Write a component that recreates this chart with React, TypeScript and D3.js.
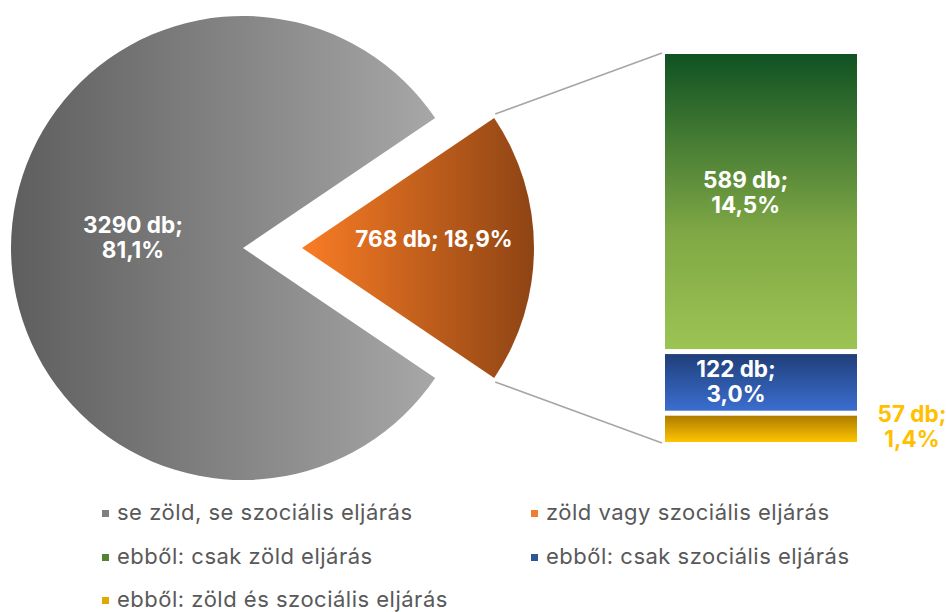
import React from 'react';
import * as d3 from 'd3';

const pieNames = ['se zöld, se szociális eljárás', 'zöld vagy szociális eljárás'];
const pieValues = [3290, 768];
const barNames = ['ebből: csak zöld eljárás', 'ebből: csak szociális eljárás', 'ebből: zöld és szociális eljárás'];
const barValues = [589, 122, 57];
const legendColors = ['#7f7f7f', '#ed7d31', '#548235', '#2f5597', '#e0a800'];

const width = 946;
const height = 612;
const radius = 232;
const total = d3.sum(pieValues);
const pct = (v: number) => d3.format('.1f')((v / total) * 100).replace('.', ',') + '%';

const labelFont = 'Inter, Roboto, "DejaVu Sans", sans-serif';

function App() {
    const orangeSpan = (pieValues[1] / total) * Math.PI * 2;
    const start = Math.PI / 2 - orangeSpan / 2;
    const pie = d3.pie<number>().sort(null).startAngle(start).endAngle(start + Math.PI * 2);
    // orange first, so it sits on the right
    const slices = pie([pieValues[1], pieValues[0]]);
    const arc = d3.arc<d3.PieArcDatum<number>>().innerRadius(0).outerRadius(radius);

    const grayCenter = { x: 243, y: 248 };
    const orangeCenter = { x: 302, y: 248 };

    // bar of pie
    const barX = 665;
    const barW = 192;
    const y = d3.scaleLinear().domain([0, d3.sum(barValues)]).range([54, 442]);
    const stack: { v: number; y0: number; y1: number }[] = [];
    let acc = 0;
    barValues.forEach((v) => {
        stack.push({ v, y0: y(acc), y1: y(acc + v) });
        acc += v;
    });
    const gap = 2.5;
    const barGrads = ['gGreen', 'gBlue', 'gYellow'];

    // connector points on orange slice edge
    const a0 = slices[0].startAngle;
    const a1 = slices[0].endAngle;
    const topPt = [orangeCenter.x + radius * Math.sin(a0), orangeCenter.y - radius * Math.cos(a0)];
    const botPt = [orangeCenter.x + radius * Math.sin(a1), orangeCenter.y - radius * Math.cos(a1)];

    const legendItems = [...pieNames, ...barNames];
    const legendCols = [117, 546];
    const legendRows = [520, 564, 607];

    return (
        <svg width={width} height={height} style={{ position: 'absolute', left: 0, top: 0 }}>
            <defs>
                <linearGradient id="gGray" gradientUnits="userSpaceOnUse" x1={-radius} x2={radius * 0.85} y1={0} y2={0}>
                    <stop offset="0" stopColor="#5e5e5e" />
                    <stop offset="1" stopColor="#a8a8a8" />
                </linearGradient>
                <linearGradient id="gOrange" gradientUnits="userSpaceOnUse" x1={0} x2={radius} y1={0} y2={0}>
                    <stop offset="0" stopColor="#f97c25" />
                    <stop offset="1" stopColor="#8e4414" />
                </linearGradient>
                <linearGradient id="gGreen" x1="0" x2="0" y1="0" y2="1">
                    <stop offset="0" stopColor="#0f5223" />
                    <stop offset="0.6" stopColor="#7fa745" />
                    <stop offset="1" stopColor="#9cc453" />
                </linearGradient>
                <linearGradient id="gBlue" x1="0" x2="0" y1="0" y2="1">
                    <stop offset="0" stopColor="#203f79" />
                    <stop offset="1" stopColor="#3b6ed0" />
                </linearGradient>
                <linearGradient id="gYellow" x1="0" x2="0" y1="0" y2="1">
                    <stop offset="0" stopColor="#ad7c00" />
                    <stop offset="1" stopColor="#ffc400" />
                </linearGradient>
            </defs>

            <path d={arc(slices[1]) || ''} transform={`translate(${grayCenter.x},${grayCenter.y})`} fill="url(#gGray)" />
            <path d={arc(slices[0]) || ''} transform={`translate(${orangeCenter.x},${orangeCenter.y})`} fill="url(#gOrange)" />

            <line x1={topPt[0] + 1} y1={topPt[1] - 4} x2={barX - 3} y2={y(0) - 1} stroke="#a6a6a6" strokeWidth={1.5} />
            <line x1={botPt[0] + 1} y1={botPt[1] + 4} x2={barX - 3} y2={y(d3.sum(barValues)) + 1} stroke="#a6a6a6" strokeWidth={1.5} />

            {stack.map((s, i) => (
                <rect key={i} x={barX} width={barW}
                    y={s.y0 + (i > 0 ? gap : 0)}
                    height={s.y1 - s.y0 - (i > 0 ? gap : 0) - (i < stack.length - 1 ? gap : 0)}
                    fill={`url(#${barGrads[i]})`} />
            ))}

            <g fontFamily={labelFont} fontWeight="bold" fontSize={22.5} textAnchor="middle" fill="#fff">
                <text x={133} y={233}>{`${pieValues[0]} db;`}</text>
                <text x={133} y={258}>{pct(pieValues[0])}</text>
                <text x={434} y={247}>{`${pieValues[1]} db; ${pct(pieValues[1])}`}</text>
                <text x={barX + barW * 0.42} y={188}>{`${barValues[0]} db;`}</text>
                <text x={barX + barW * 0.42} y={213}>{pct(barValues[0])}</text>
                <text x={barX + barW * 0.37} y={377}>{`${barValues[1]} db;`}</text>
                <text x={barX + barW * 0.37} y={402}>{pct(barValues[1])}</text>
                <text x={912} y={422} fill="#ffc000">{`${barValues[2]} db;`}</text>
                <text x={912} y={447} fill="#ffc000">{pct(barValues[2])}</text>
            </g>

            <g fontFamily={labelFont} fontSize={22} letterSpacing={0.5} fill="#595959">
                {legendItems.map((name, i) => {
                    const tx = legendCols[i % 2];
                    const ty = legendRows[Math.floor(i / 2)];
                    return (
                        <g key={name}>
                            <rect x={tx - 15} y={ty - 10} width={7} height={7} fill={legendColors[i]} />
                            <text x={tx} y={ty}>{name}</text>
                        </g>
                    );
                })}
            </g>
        </svg>
    );
}

export default App;
